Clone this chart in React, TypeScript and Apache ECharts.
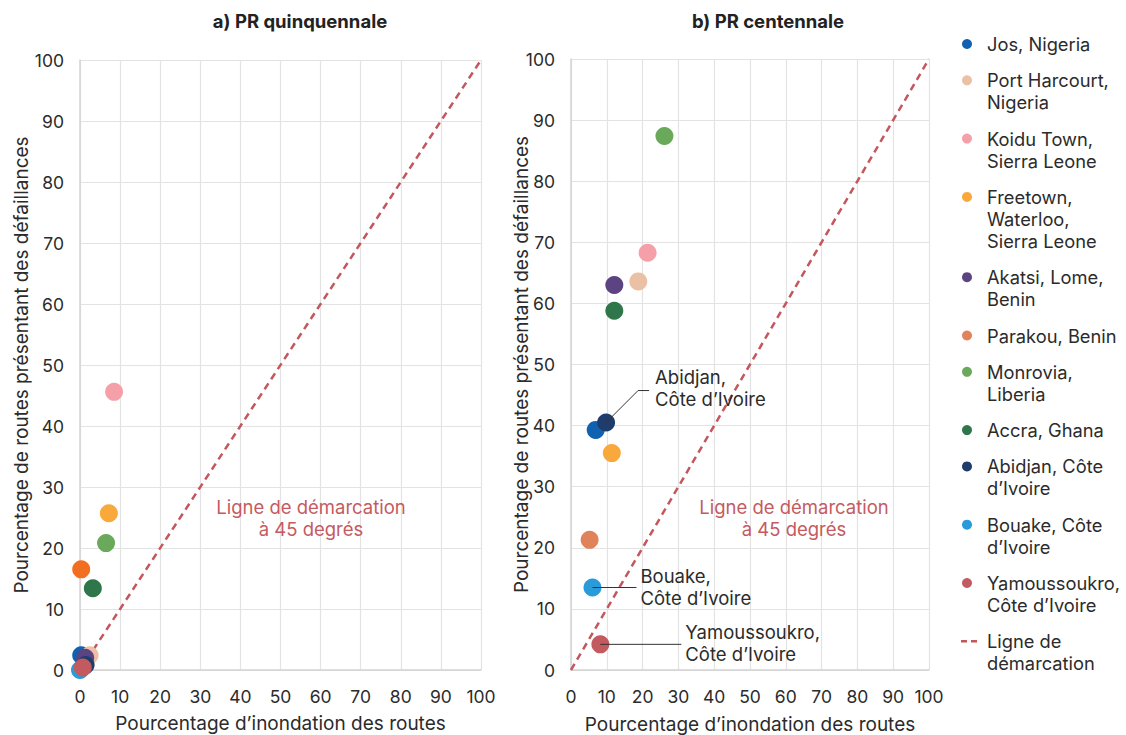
import React, { useEffect, useRef } from "react";
import * as echarts from "echarts";

const cities = [
  "Jos, Nigeria",
  "Port Harcourt, Nigeria",
  "Koidu Town, Sierra Leone",
  "Freetown, Waterloo, Sierra Leone",
  "Akatsi, Lome, Benin",
  "Parakou, Benin",
  "Monrovia, Liberia",
  "Accra, Ghana",
  "Abidjan, Côte d'Ivoire",
  "Bouake, Côte d'Ivoire",
  "Yamoussoukro, Côte d'Ivoire",
];
const legendLabels = [
  "Jos, Nigeria",
  "Port Harcourt,\nNigeria",
  "Koidu Town,\nSierra Leone",
  "Freetown,\nWaterloo,\nSierra Leone",
  "Akatsi, Lome,\nBenin",
  "Parakou, Benin",
  "Monrovia,\nLiberia",
  "Accra, Ghana",
  "Abidjan, Côte\nd’Ivoire",
  "Bouake, Côte\nd’Ivoire",
  "Yamoussoukro,\nCôte d’Ivoire",
];
const lineLegendLabel = "Ligne de\ndémarcation";
const colors = [
  "#1062B1",
  "#EBC1A6",
  "#F5A0A9",
  "#F9A83B",
  "#5C4382",
  "#E0835B",
  "#6BA95A",
  "#2F774A",
  "#1E3D6D",
  "#2A9BD9",
  "#C25A5F",
];
const colorsQuin = [
  "#1062B1",
  "#EBC1A6",
  "#F5A0A9",
  "#F9A83B",
  "#5C4382",
  "#F26F22",
  "#6BA95A",
  "#2F774A",
  "#1E3D6D",
  "#2A9BD9",
  "#C25A5F",
];
// a) PR quinquennale
const quinX = [0.3, 2.4, 8.5, 7.2, 1.3, 0.3, 6.5, 3.2, 1.4, 0.0, 0.7];
const quinY = [2.4, 2.4, 45.6, 25.7, 2.0, 16.5, 20.8, 13.4, 0.8, 0.0, 0.4];
// b) PR centennale
const centX = [6.9, 18.8, 21.4, 11.4, 12.1, 5.2, 26.1, 12.1, 9.8, 6.0, 8.2];
const centY = [39.3, 63.6, 68.3, 35.5, 63.0, 21.3, 87.4, 58.8, 40.5, 13.5, 4.2];

const diagonal = [
  [0, 0],
  [100, 100],
];
const titles = ["a) PR quinquennale", "b) PR centennale"];
const xName = "Pourcentage d’inondation des routes";
const yName = "Pourcentage de routes présentant des défaillances";
const diagLabel = "Ligne de démarcation\nà 45 degrés";

const annotations = [
  { idx: 8, text: "Abidjan,\nCôte d’Ivoire", kind: "bend" },
  { idx: 9, text: "Bouake,\nCôte d’Ivoire", kind: "flat", len: 44 },
  { idx: 10, text: "Yamoussoukro,\nCôte d’Ivoire", kind: "flat", len: 81 },
];

const FONT = "Inter, 'Noto Sans', sans-serif";
const TXT = "#2b2b2b";
const LINE_RED = "#C4575D";
const TEXT_SIZE = 18.5;

export default function App() {
  const ref = useRef<HTMLDivElement>(null);
  useEffect(() => {
    const chart = echarts.init(ref.current!, null, { renderer: "svg" });
    const grids = [
      { left: 80, top: 60, width: 401, height: 610, outerBoundsMode: "none", containLabel: false },
      { left: 571, top: 59, width: 358, height: 611, outerBoundsMode: "none", containLabel: false },
    ];
    const axisCommon = {
      min: 0,
      max: 100,
      interval: 10,
      axisTick: { show: false },
      axisLine: { show: true, lineStyle: { color: "#d4d4d4", width: 1.5 } },
      splitLine: { show: true, lineStyle: { color: "#e3e3e3", width: 1.2 } },
      nameTextStyle: { color: TXT, fontSize: 19, fontFamily: FONT },
      nameMoveOverlap: false,
    };
    const xAxes = [0, 1].map((g) => ({
      ...axisCommon,
      type: "value",
      gridIndex: g,
      name: xName,
      nameLocation: "middle",
      nameGap: g === 0 ? 44 : 45,
      axisLabel: { color: TXT, fontSize: 17.5, fontFamily: FONT, margin: 17 },
    }));
    const yAxes = [0, 1].map((g) => ({
      ...axisCommon,
      type: "value",
      gridIndex: g,
      name: yName,
      nameLocation: "middle",
      nameGap: g === 0 ? 49 : 40,
      axisLabel: { color: TXT, fontSize: 17.5, fontFamily: FONT, margin: 16 },
    }));
    const series: any[] = [];
    [0, 1].forEach((g) => {
      series.push({
        type: "line",
        name: "diag" + g,
        xAxisIndex: g,
        yAxisIndex: g,
        data: diagonal,
        symbol: "none",
        silent: true,
        z: 1,
        lineStyle: { color: LINE_RED, width: 2.5, type: [7, 5] },
      });
    });
    cities.forEach((c, i) => {
      series.push({
        type: "scatter",
        name: c,
        xAxisIndex: 0,
        yAxisIndex: 0,
        symbolSize: 18,
        z: 3,
        itemStyle: { color: colorsQuin[i], opacity: 1 },
        data: [[quinX[i], quinY[i]]],
      });
      series.push({
        type: "scatter",
        name: c,
        xAxisIndex: 1,
        yAxisIndex: 1,
        symbolSize: 18,
        z: 3,
        itemStyle: { color: colors[i], opacity: 1 },
        data: [[centX[i], centY[i]]],
      });
    });
    chart.setOption({
      animation: false,
      backgroundColor: "#ffffff",
      textStyle: { fontFamily: FONT },
      grid: grids,
      xAxis: xAxes,
      yAxis: yAxes,
      series,
    });

    const graphics: any[] = [];
    // titles
    const titleX = [300, 768];
    titles.forEach((t, i) =>
      graphics.push({
        type: "text",
        x: titleX[i],
        y: 21,
        style: {
          text: t,
          fontSize: 18.5,
          fontWeight: "bold",
          fontFamily: FONT,
          fill: "#222",
          align: "center",
          verticalAlign: "middle",
        },
      })
    );
    // diagonal labels
    const diagX = [311, 794];
    diagX.forEach((x) =>
      graphics.push({
        type: "text",
        x,
        y: 496,
        style: {
          text: diagLabel,
          fontSize: TEXT_SIZE,
          fontFamily: FONT,
          fill: "#C55A5F",
          align: "center",
          verticalAlign: "top",
          lineHeight: 22,
        },
      })
    );
    // annotations (right panel)
    annotations.forEach((a) => {
      const p = chart.convertToPixel({ gridIndex: 1 } as any, [centX[a.idx], centY[a.idx]]) as number[];
      if (a.kind === "bend") {
        graphics.push({
          type: "polyline",
          shape: { points: [[p[0], p[1]], [p[0] + 32, p[1] - 32], [p[0] + 43, p[1] - 32]] },
          style: { stroke: "#333", lineWidth: 1, fill: null },
          z: 10,
        });
        graphics.push({
          type: "text",
          x: p[0] + 49,
          y: p[1] - 35,
          z: 10,
          style: {
            text: a.text,
            fontSize: TEXT_SIZE,
            fontFamily: FONT,
            fill: TXT,
            align: "left",
            verticalAlign: "middle",
            lineHeight: 22,
          },
        });
      } else {
        graphics.push({
          type: "line",
          shape: { x1: p[0], y1: p[1], x2: p[0] + (a.len as number), y2: p[1] },
          style: { stroke: "#333", lineWidth: 1 },
          z: 10,
        });
        graphics.push({
          type: "text",
          x: p[0] + (a.len as number) + 4,
          y: p[1] - 1,
          z: 10,
          style: {
            text: a.text,
            fontSize: TEXT_SIZE,
            fontFamily: FONT,
            fill: TXT,
            align: "left",
            verticalAlign: "middle",
            lineHeight: 22,
          },
        });
      }
    });
    // legend
    const LH = 22;
    const GAP = 14.3;
    let cy = 44;
    const allLabels = [...legendLabels, lineLegendLabel];
    allLabels.forEach((lab, i) => {
      const nLines = lab.split("\n").length;
      if (i < legendLabels.length) {
        graphics.push({
          type: "circle",
          shape: { cx: 967, cy, r: 5 },
          style: { fill: colors[i] },
        });
      } else {
        graphics.push({
          type: "line",
          shape: { x1: 961, y1: cy, x2: 980, y2: cy },
          style: { stroke: LINE_RED, lineWidth: 2.5, lineDash: [6, 4] },
        });
      }
      graphics.push({
        type: "text",
        x: 987,
        y: cy - LH / 2,
        style: {
          text: lab,
          fontSize: 18.3,
          fontFamily: FONT,
          fill: TXT,
          align: "left",
          verticalAlign: "top",
          lineHeight: LH,
        },
      });
      cy += nLines * LH + GAP;
    });
    chart.setOption({ graphic: graphics });

    return () => chart.dispose();
  }, []);
  return (
    <div
      ref={ref}
      style={{ position: "fixed", left: 0, top: 0, width: 1126, height: 735, background: "#fff" }}
    />
  );
}
